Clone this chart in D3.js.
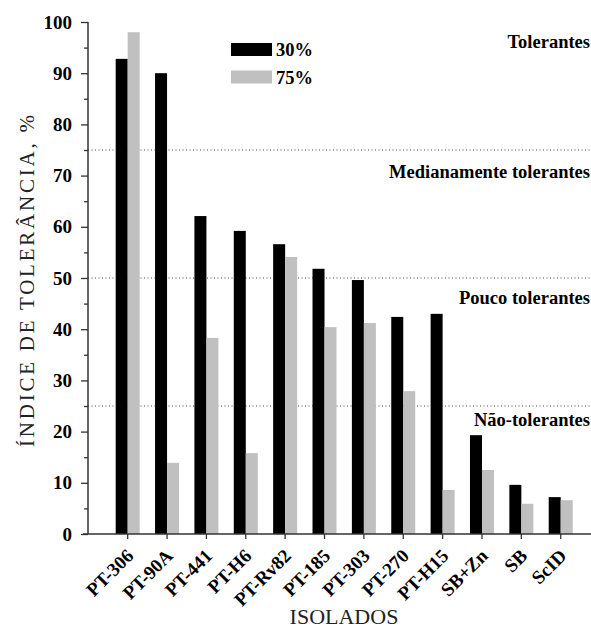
<!DOCTYPE html>
<html><head><meta charset="utf-8">
<script src="https://cdn.jsdelivr.net/npm/d3@7"></script>
<style>body{margin:0;background:#fff}</style>
</head><body><svg id="c" width="591" height="630"></svg>
<script>
const categories = ["PT-306","PT-90A","PT-441","PT-H6","PT-Rv82","PT-185","PT-303","PT-270","PT-H15","SB+Zn","SB","ScID"];
const series = ["30%","75%"];
const values30 = [92.8,90.0,62.1,59.2,56.6,51.8,49.6,42.4,43.0,19.3,9.6,7.2];
const values75 = [98.0,13.9,38.3,15.8,54.1,40.4,41.2,27.9,8.6,12.5,5.9,6.6];
const yTicks = [0,10,20,30,40,50,60,70,80,90,100];
const minorTicks = [5,15,25,35,45,55,65,75,85,95];
const thresholds = [25,50,75];
const classLabels = ["Não-tolerantes","Pouco tolerantes","Medianamente tolerantes","Tolerantes"];
const classLabelValues = [21,45,69.5,95];
const colors = ["#000000","#c0c0c0"];
const font = "'Liberation Serif','Times New Roman',serif";

const svg = d3.select("#c");
const y = d3.scaleLinear().domain([0,100]).range([534,22]);
const x = d3.scaleBand().domain(categories).range([108,580.4]).padding(0);
const barW = 12;
const xs = d3.scaleBand().domain(series).range([-barW, barW]);
const axisX = 88;

// dotted threshold lines
svg.selectAll("line.thr").data(thresholds).join("line")
  .attr("x1",axisX).attr("x2",591).attr("y1",d=>y(d)).attr("y2",d=>y(d))
  .attr("stroke","#444").attr("stroke-width",1).attr("stroke-dasharray","1,2.5");

// bars
const data = categories.map((c,i)=>({c, v:[values30[i],values75[i]]}));
const g = svg.selectAll("g.cat").data(data).join("g")
  .attr("transform",d=>`translate(${x(d.c)+x.bandwidth()/2},0)`);
g.selectAll("rect").data(d=>series.map((s,j)=>({s,v:d.v[j],j}))).join("rect")
  .attr("x",d=>xs(d.s)).attr("width",xs.bandwidth())
  .attr("y",d=>y(d.v)).attr("height",d=>y(0)-y(d.v))
  .attr("fill",d=>colors[d.j]);

// y axis
const ya = svg.append("g").attr("transform",`translate(${axisX},0)`);
ya.call(d3.axisLeft(y).tickValues(yTicks).tickSize(7).tickPadding(9).tickFormat(d3.format("d")));
ya.append("g").call(d3.axisLeft(y).tickValues(minorTicks).tickSize(4).tickFormat(""));
ya.selectAll(".domain").remove();
ya.append("line").attr("x1",0).attr("x2",0).attr("y1",y(100)).attr("y2",y(0)).attr("stroke","#333").attr("stroke-width",1.5);
ya.selectAll(".tick line").attr("stroke","#333").attr("stroke-width",1.3);
ya.selectAll(".tick text").attr("font-family",font).attr("font-weight","bold").attr("font-size",19).attr("fill","#000");

// x axis
const xa = svg.append("g").attr("transform",`translate(0,${y(0)})`);
xa.call(d3.axisBottom(x).tickSize(5).tickFormat(""));
xa.selectAll(".domain").remove();
xa.append("line").attr("x1",83).attr("x2",591).attr("y1",0).attr("y2",0).attr("stroke","#333").attr("stroke-width",1.5);
xa.selectAll(".tick line").attr("stroke","#333").attr("stroke-width",1.3);
svg.selectAll("text.xl").data(categories).join("text").attr("class","xl")
  .attr("transform",d=>`translate(${x(d)+x.bandwidth()/2+7},${y(0)+23}) rotate(-45)`)
  .attr("text-anchor","end").attr("font-family",font).attr("font-weight","bold").attr("font-size",19)
  .text(d=>d);

// axis titles
svg.append("text").attr("transform",`translate(34,281) rotate(-90)`)
  .attr("text-anchor","middle").attr("font-family",font).attr("font-size",21).attr("fill","#222")
  .attr("textLength",332).attr("lengthAdjust","spacing")
  .text("ÍNDICE DE TOLERÂNCIA, %");
svg.append("text").attr("x",344).attr("y",624).attr("text-anchor","middle")
  .attr("font-family",font).attr("font-size",22).attr("fill","#222").text("ISOLADOS");

// class labels
svg.selectAll("text.cl").data(classLabels).join("text").attr("class","cl")
  .attr("x",590).attr("y",(d,i)=>y(classLabelValues[i])).attr("text-anchor","end")
  .attr("font-family",font).attr("font-weight","bold").attr("font-size",18.5).text(d=>d);

// legend
const lg = svg.selectAll("g.lg").data(series).join("g").attr("class","lg")
  .attr("transform",(d,i)=>`translate(231,${43+i*27.5})`);
lg.append("rect").attr("width",41).attr("height",13).attr("fill",(d,i)=>colors[i]);
lg.append("text").attr("x",45).attr("y",13).attr("font-family",font).attr("font-weight","bold").attr("font-size",18.5).text(d=>d);
</script></body></html>
